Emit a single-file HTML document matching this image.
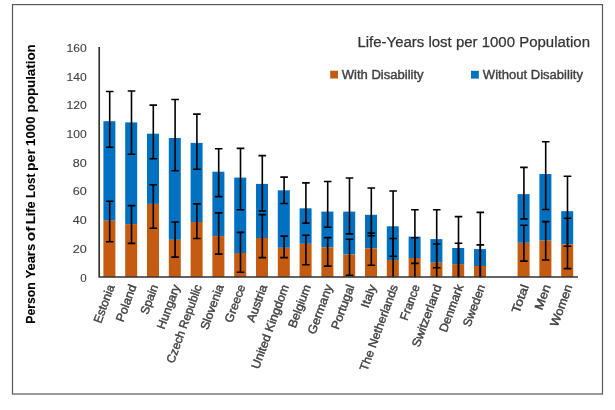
<!DOCTYPE html>
<html><head><meta charset="utf-8"><title>Life-Years lost per 1000 Population</title>
<style>
html,body{margin:0;padding:0;background:#fff;width:615px;height:410px;overflow:hidden}
svg{display:block;will-change:transform}
text{font-family:"Liberation Sans",Arial,sans-serif;fill:#404040;stroke:#404040;stroke-width:0.4px}
.yl{font-size:11.6px;stroke-width:0.1px}
.xl{font-size:12px}
.yt{font-size:13.2px;font-weight:bold;fill:#000;stroke:#000;stroke-width:0.1px}
.tt{font-size:15.5px;fill:#333;stroke:#333;stroke-width:0.25px}
.lg{font-size:13.06px}
</style></head><body>
<svg width="615" height="410" viewBox="0 0 615 410">
<defs><clipPath id="pc"><rect x="99" y="40" width="480" height="237.5"/></clipPath></defs>
<rect width="615" height="410" fill="#fff"/>
<rect x="12.5" y="4.6" width="590" height="389.4" fill="none" stroke="#595959" stroke-width="1.2"/>
<rect x="103.40" y="121.20" width="12.0" height="99.50" fill="#0070C0"/>
<rect x="103.40" y="220.70" width="12.0" height="56.30" fill="#C55A11"/>
<rect x="125.20" y="122.40" width="12.0" height="101.70" fill="#0070C0"/>
<rect x="125.20" y="224.10" width="12.0" height="52.90" fill="#C55A11"/>
<rect x="147.00" y="133.70" width="12.0" height="70.20" fill="#0070C0"/>
<rect x="147.00" y="203.90" width="12.0" height="73.10" fill="#C55A11"/>
<rect x="168.80" y="138.00" width="12.0" height="101.80" fill="#0070C0"/>
<rect x="168.80" y="239.80" width="12.0" height="37.20" fill="#C55A11"/>
<rect x="190.60" y="142.90" width="12.0" height="79.10" fill="#0070C0"/>
<rect x="190.60" y="222.00" width="12.0" height="55.00" fill="#C55A11"/>
<rect x="212.40" y="171.70" width="12.0" height="64.40" fill="#0070C0"/>
<rect x="212.40" y="236.10" width="12.0" height="40.90" fill="#C55A11"/>
<rect x="234.20" y="177.60" width="12.0" height="75.40" fill="#0070C0"/>
<rect x="234.20" y="253.00" width="12.0" height="24.00" fill="#C55A11"/>
<rect x="256.00" y="183.90" width="12.0" height="54.10" fill="#0070C0"/>
<rect x="256.00" y="238.00" width="12.0" height="39.00" fill="#C55A11"/>
<rect x="277.80" y="190.30" width="12.0" height="57.50" fill="#0070C0"/>
<rect x="277.80" y="247.80" width="12.0" height="29.20" fill="#C55A11"/>
<rect x="299.60" y="208.30" width="12.0" height="35.50" fill="#0070C0"/>
<rect x="299.60" y="243.80" width="12.0" height="33.20" fill="#C55A11"/>
<rect x="321.40" y="211.60" width="12.0" height="35.70" fill="#0070C0"/>
<rect x="321.40" y="247.30" width="12.0" height="29.70" fill="#C55A11"/>
<rect x="343.20" y="211.60" width="12.0" height="42.90" fill="#0070C0"/>
<rect x="343.20" y="254.50" width="12.0" height="22.50" fill="#C55A11"/>
<rect x="365.00" y="214.80" width="12.0" height="33.50" fill="#0070C0"/>
<rect x="365.00" y="248.30" width="12.0" height="28.70" fill="#C55A11"/>
<rect x="386.80" y="226.30" width="12.0" height="33.70" fill="#0070C0"/>
<rect x="386.80" y="260.00" width="12.0" height="17.00" fill="#C55A11"/>
<rect x="408.60" y="236.60" width="12.0" height="21.40" fill="#0070C0"/>
<rect x="408.60" y="258.00" width="12.0" height="19.00" fill="#C55A11"/>
<rect x="430.40" y="239.10" width="12.0" height="23.60" fill="#0070C0"/>
<rect x="430.40" y="262.70" width="12.0" height="14.30" fill="#C55A11"/>
<rect x="452.20" y="248.00" width="12.0" height="16.10" fill="#0070C0"/>
<rect x="452.20" y="264.10" width="12.0" height="12.90" fill="#C55A11"/>
<rect x="474.00" y="249.10" width="12.0" height="16.90" fill="#0070C0"/>
<rect x="474.00" y="266.00" width="12.0" height="11.00" fill="#C55A11"/>
<rect x="517.60" y="194.10" width="12.0" height="48.70" fill="#0070C0"/>
<rect x="517.60" y="242.80" width="12.0" height="34.20" fill="#C55A11"/>
<rect x="539.40" y="174.00" width="12.0" height="66.60" fill="#0070C0"/>
<rect x="539.40" y="240.60" width="12.0" height="36.40" fill="#C55A11"/>
<rect x="561.20" y="211.20" width="12.0" height="33.10" fill="#0070C0"/>
<rect x="561.20" y="244.30" width="12.0" height="32.70" fill="#C55A11"/>
<g clip-path="url(#pc)" stroke="#000" fill="none">
<path d="M109.70 201.20V241.70" stroke-width="1.6"/>
<path d="M105.90 201.20H113.50M105.90 241.70H113.50" stroke-width="1.6"/>
<path d="M109.70 91.50V147.30" stroke-width="1.6"/>
<path d="M105.90 91.50H113.50M105.90 147.30H113.50" stroke-width="1.6"/>
<path d="M131.50 205.60V243.40" stroke-width="1.6"/>
<path d="M127.70 205.60H135.30M127.70 243.40H135.30" stroke-width="1.6"/>
<path d="M131.50 91.00V154.30" stroke-width="1.6"/>
<path d="M127.70 91.00H135.30M127.70 154.30H135.30" stroke-width="1.6"/>
<path d="M153.30 184.70V228.30" stroke-width="1.6"/>
<path d="M149.50 184.70H157.10M149.50 228.30H157.10" stroke-width="1.6"/>
<path d="M153.30 105.10V158.80" stroke-width="1.6"/>
<path d="M149.50 105.10H157.10M149.50 158.80H157.10" stroke-width="1.6"/>
<path d="M175.10 222.00V257.10" stroke-width="1.6"/>
<path d="M171.30 222.00H178.90M171.30 257.10H178.90" stroke-width="1.6"/>
<path d="M175.10 99.50V170.70" stroke-width="1.6"/>
<path d="M171.30 99.50H178.90M171.30 170.70H178.90" stroke-width="1.6"/>
<path d="M196.90 203.90V238.50" stroke-width="1.6"/>
<path d="M193.10 203.90H200.70M193.10 238.50H200.70" stroke-width="1.6"/>
<path d="M196.90 114.10V169.30" stroke-width="1.6"/>
<path d="M193.10 114.10H200.70M193.10 169.30H200.70" stroke-width="1.6"/>
<path d="M218.70 212.90V254.10" stroke-width="1.6"/>
<path d="M214.90 212.90H222.50M214.90 254.10H222.50" stroke-width="1.6"/>
<path d="M218.70 148.80V196.60" stroke-width="1.6"/>
<path d="M214.90 148.80H222.50M214.90 196.60H222.50" stroke-width="1.6"/>
<path d="M240.50 232.40V272.20" stroke-width="1.6"/>
<path d="M236.70 232.40H244.30M236.70 272.20H244.30" stroke-width="1.6"/>
<path d="M240.50 148.40V209.80" stroke-width="1.6"/>
<path d="M236.70 148.40H244.30M236.70 209.80H244.30" stroke-width="1.6"/>
<path d="M262.30 214.60V257.60" stroke-width="1.6"/>
<path d="M258.50 214.60H266.10M258.50 257.60H266.10" stroke-width="1.6"/>
<path d="M262.30 155.60V211.00" stroke-width="1.6"/>
<path d="M258.50 155.60H266.10M258.50 211.00H266.10" stroke-width="1.6"/>
<path d="M284.10 236.10V257.60" stroke-width="1.6"/>
<path d="M280.30 236.10H287.90M280.30 257.60H287.90" stroke-width="1.6"/>
<path d="M284.10 177.10V203.50" stroke-width="1.6"/>
<path d="M280.30 177.10H287.90M280.30 203.50H287.90" stroke-width="1.6"/>
<path d="M305.90 235.20V264.70" stroke-width="1.6"/>
<path d="M302.10 235.20H309.70M302.10 264.70H309.70" stroke-width="1.6"/>
<path d="M305.90 182.90V223.10" stroke-width="1.6"/>
<path d="M302.10 182.90H309.70M302.10 223.10H309.70" stroke-width="1.6"/>
<path d="M327.70 237.60V266.10" stroke-width="1.6"/>
<path d="M323.90 237.60H331.50M323.90 266.10H331.50" stroke-width="1.6"/>
<path d="M327.70 181.50V227.20" stroke-width="1.6"/>
<path d="M323.90 181.50H331.50M323.90 227.20H331.50" stroke-width="1.6"/>
<path d="M349.50 239.20V275.20" stroke-width="1.6"/>
<path d="M345.70 239.20H353.30M345.70 275.20H353.30" stroke-width="1.6"/>
<path d="M349.50 178.00V233.90" stroke-width="1.6"/>
<path d="M345.70 178.00H353.30M345.70 233.90H353.30" stroke-width="1.6"/>
<path d="M371.30 233.10V265.30" stroke-width="1.6"/>
<path d="M367.50 233.10H375.10M367.50 265.30H375.10" stroke-width="1.6"/>
<path d="M371.30 188.00V235.70" stroke-width="1.6"/>
<path d="M367.50 188.00H375.10M367.50 235.70H375.10" stroke-width="1.6"/>
<path d="M393.10 238.50V290.00" stroke-width="1.6"/>
<path d="M389.30 238.50H396.90M389.30 290.00H396.90" stroke-width="1.6"/>
<path d="M393.10 191.00V256.30" stroke-width="1.6"/>
<path d="M389.30 191.00H396.90M389.30 256.30H396.90" stroke-width="1.6"/>
<path d="M414.90 237.80V290.00" stroke-width="1.6"/>
<path d="M411.10 237.80H418.70M411.10 290.00H418.70" stroke-width="1.6"/>
<path d="M414.90 209.80V263.40" stroke-width="1.6"/>
<path d="M411.10 209.80H418.70M411.10 263.40H418.70" stroke-width="1.6"/>
<path d="M436.70 244.00V290.00" stroke-width="1.6"/>
<path d="M432.90 244.00H440.50M432.90 290.00H440.50" stroke-width="1.6"/>
<path d="M436.70 209.80V267.80" stroke-width="1.6"/>
<path d="M432.90 209.80H440.50M432.90 267.80H440.50" stroke-width="1.6"/>
<path d="M458.50 243.20V290.00" stroke-width="1.6"/>
<path d="M454.70 243.20H462.30M454.70 290.00H462.30" stroke-width="1.6"/>
<path d="M458.50 216.60V290.00" stroke-width="1.6"/>
<path d="M454.70 216.60H462.30M454.70 290.00H462.30" stroke-width="1.6"/>
<path d="M480.30 244.90V290.00" stroke-width="1.6"/>
<path d="M476.50 244.90H484.10M476.50 290.00H484.10" stroke-width="1.6"/>
<path d="M480.30 212.40V290.00" stroke-width="1.6"/>
<path d="M476.50 212.40H484.10M476.50 290.00H484.10" stroke-width="1.6"/>
<path d="M523.90 225.20V261.10" stroke-width="1.6"/>
<path d="M520.10 225.20H527.70M520.10 261.10H527.70" stroke-width="1.6"/>
<path d="M523.90 167.40V219.00" stroke-width="1.6"/>
<path d="M520.10 167.40H527.70M520.10 219.00H527.70" stroke-width="1.6"/>
<path d="M545.70 221.60V260.00" stroke-width="1.6"/>
<path d="M541.90 221.60H549.50M541.90 260.00H549.50" stroke-width="1.6"/>
<path d="M545.70 141.70V209.50" stroke-width="1.6"/>
<path d="M541.90 141.70H549.50M541.90 209.50H549.50" stroke-width="1.6"/>
<path d="M567.50 218.20V268.60" stroke-width="1.6"/>
<path d="M563.70 218.20H571.30M563.70 268.60H571.30" stroke-width="1.6"/>
<path d="M567.50 176.20V246.20" stroke-width="1.6"/>
<path d="M563.70 176.20H571.30M563.70 246.20H571.30" stroke-width="1.6"/>
</g>
<path d="M99.2 47V277.0H578" stroke="#333" stroke-width="1.7" fill="none" stroke-linejoin="round"/>
<text x="86.8" y="281.55" text-anchor="end" class="yl">0</text>
<text x="86.8" y="252.84" text-anchor="end" class="yl" textLength="14.0" lengthAdjust="spacingAndGlyphs">20</text>
<text x="86.8" y="224.12" text-anchor="end" class="yl" textLength="14.0" lengthAdjust="spacingAndGlyphs">40</text>
<text x="86.8" y="195.41" text-anchor="end" class="yl" textLength="14.0" lengthAdjust="spacingAndGlyphs">60</text>
<text x="86.8" y="166.70" text-anchor="end" class="yl" textLength="14.0" lengthAdjust="spacingAndGlyphs">80</text>
<text x="86.8" y="137.99" text-anchor="end" class="yl" textLength="20.2" lengthAdjust="spacingAndGlyphs">100</text>
<text x="86.8" y="109.28" text-anchor="end" class="yl" textLength="20.2" lengthAdjust="spacingAndGlyphs">120</text>
<text x="86.8" y="80.56" text-anchor="end" class="yl" textLength="20.2" lengthAdjust="spacingAndGlyphs">140</text>
<text x="86.8" y="51.85" text-anchor="end" class="yl" textLength="20.2" lengthAdjust="spacingAndGlyphs">160</text>
<text transform="translate(111.00 285.00) rotate(-70)" text-anchor="end" class="xl" dy="4" textLength="40.0" lengthAdjust="spacingAndGlyphs">Estonia</text>
<text transform="translate(132.80 285.00) rotate(-70)" text-anchor="end" class="xl" dy="4" textLength="38.7" lengthAdjust="spacingAndGlyphs">Poland</text>
<text transform="translate(154.60 285.00) rotate(-70)" text-anchor="end" class="xl" dy="4" textLength="30.8" lengthAdjust="spacingAndGlyphs">Spain</text>
<text transform="translate(176.40 285.00) rotate(-70)" text-anchor="end" class="xl" dy="4" textLength="46.4" lengthAdjust="spacingAndGlyphs">Hungary</text>
<text transform="translate(198.20 285.00) rotate(-70)" text-anchor="end" class="xl" dy="4" textLength="82.5" lengthAdjust="spacingAndGlyphs">Czech Republic</text>
<text transform="translate(220.00 285.00) rotate(-70)" text-anchor="end" class="xl" dy="4" textLength="47.1" lengthAdjust="spacingAndGlyphs">Slovenia</text>
<text transform="translate(241.80 285.00) rotate(-70)" text-anchor="end" class="xl" dy="4" textLength="39.4" lengthAdjust="spacingAndGlyphs">Greece</text>
<text transform="translate(263.60 285.00) rotate(-70)" text-anchor="end" class="xl" dy="4" textLength="39.0" lengthAdjust="spacingAndGlyphs">Austria</text>
<text transform="translate(285.40 285.00) rotate(-70)" text-anchor="end" class="xl" dy="4" textLength="88.8" lengthAdjust="spacingAndGlyphs">United Kingdom</text>
<text transform="translate(307.20 285.00) rotate(-70)" text-anchor="end" class="xl" dy="4" textLength="45.2" lengthAdjust="spacingAndGlyphs">Belgium</text>
<text transform="translate(329.00 285.00) rotate(-70)" text-anchor="end" class="xl" dy="4" textLength="51.7" lengthAdjust="spacingAndGlyphs">Germany</text>
<text transform="translate(350.80 285.00) rotate(-70)" text-anchor="end" class="xl" dy="4" textLength="46.8" lengthAdjust="spacingAndGlyphs">Portugal</text>
<text transform="translate(372.60 285.00) rotate(-70)" text-anchor="end" class="xl" dy="4" textLength="23.7" lengthAdjust="spacingAndGlyphs">Italy</text>
<text transform="translate(394.40 285.00) rotate(-70)" text-anchor="end" class="xl" dy="4" textLength="90.9" lengthAdjust="spacingAndGlyphs">The Netherlands</text>
<text transform="translate(416.20 285.00) rotate(-70)" text-anchor="end" class="xl" dy="4" textLength="37.0" lengthAdjust="spacingAndGlyphs">France</text>
<text transform="translate(438.00 285.00) rotate(-70)" text-anchor="end" class="xl" dy="4" textLength="65.7" lengthAdjust="spacingAndGlyphs">Switzerland</text>
<text transform="translate(459.80 285.00) rotate(-70)" text-anchor="end" class="xl" dy="4" textLength="49.7" lengthAdjust="spacingAndGlyphs">Denmark</text>
<text transform="translate(481.60 285.00) rotate(-70)" text-anchor="end" class="xl" dy="4" textLength="43.9" lengthAdjust="spacingAndGlyphs">Sweden</text>
<text transform="translate(525.20 285.00) rotate(-70)" text-anchor="end" class="xl" dy="4" textLength="29.3" lengthAdjust="spacingAndGlyphs">Total</text>
<text transform="translate(547.00 285.00) rotate(-70)" text-anchor="end" class="xl" dy="4" textLength="25.9" lengthAdjust="spacingAndGlyphs">Men</text>
<text transform="translate(568.80 285.00) rotate(-70)" text-anchor="end" class="xl" dy="4" textLength="43.9" lengthAdjust="spacingAndGlyphs">Women</text>
<text transform="translate(34.5 323.7) rotate(-90)" class="yt"><tspan x="0.0" textLength="41.5" lengthAdjust="spacingAndGlyphs">Person</tspan> <tspan x="45.2" textLength="34.6" lengthAdjust="spacingAndGlyphs">Years</tspan> <tspan x="82.4" textLength="14.6" lengthAdjust="spacingAndGlyphs">of</tspan> <tspan x="99.6" textLength="22.7" lengthAdjust="spacingAndGlyphs">Life</tspan> <tspan x="125.8" textLength="24.1" lengthAdjust="spacingAndGlyphs">Lost</tspan> <tspan x="152.7" textLength="22.0" lengthAdjust="spacingAndGlyphs">per</tspan> <tspan x="177.8" textLength="29.4" lengthAdjust="spacingAndGlyphs">1000</tspan> <tspan x="211.3" textLength="68.1" lengthAdjust="spacingAndGlyphs">population</tspan></text>
<text x="357.4" y="46.9" class="tt" textLength="232.6" lengthAdjust="spacingAndGlyphs">Life-Years lost per 1000 Population</text>
<rect x="330.2" y="70.7" width="7.8" height="7.8" fill="#C55A11"/>
<text x="341.7" y="78.7" class="lg" textLength="81.9" lengthAdjust="spacingAndGlyphs">With Disability</text>
<rect x="471.0" y="70.8" width="7.8" height="7.8" fill="#0070C0"/>
<text x="482.8" y="78.7" class="lg" textLength="100.2" lengthAdjust="spacingAndGlyphs">Without Disability</text>
</svg>
</body></html>
